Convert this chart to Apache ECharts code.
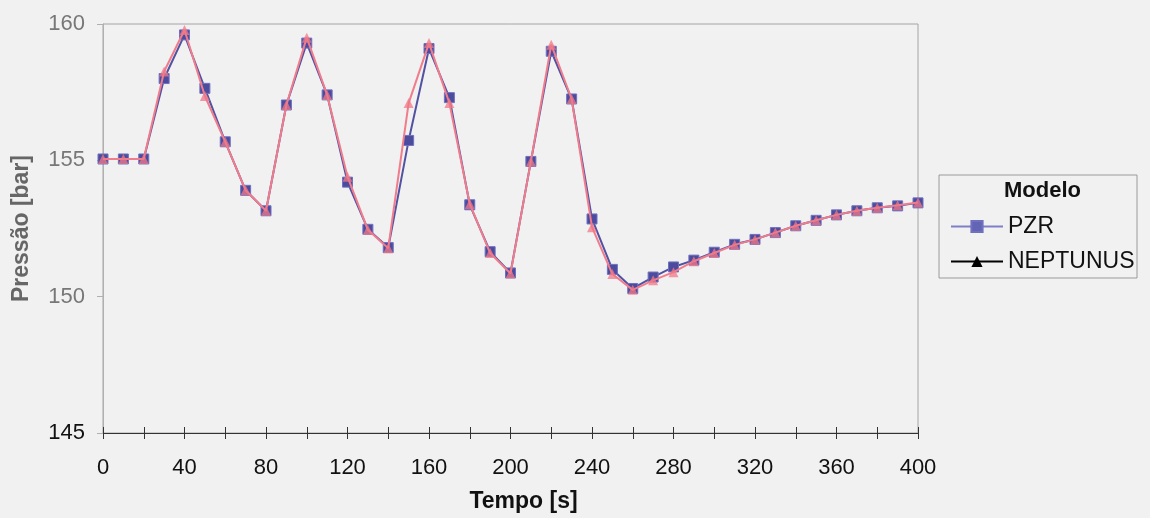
<!DOCTYPE html>
<html>
<head>
<meta charset="utf-8">
<script src="https://cdn.jsdelivr.net/npm/echarts@6/dist/echarts.min.js"></script>
<style>
html,body{margin:0;padding:0;background:#f1f1f1;}
#c{width:1150px;height:518px;}
</style>
</head>
<body>
<div id="c"></div>
<script>
var tempo = [0,10,20,30,40,50,60,70,80,90,100,110,120,130,140,150,160,170,180,190,200,210,220,230,240,250,260,270,280,290,300,310,320,330,340,350,360,370,380,390,400];
var pzr = [155.05,155.05,155.05,158.0,159.6,157.64,155.68,153.9,153.15,157.03,159.3,157.4,154.2,152.47,151.8,155.73,159.1,157.3,153.37,151.65,150.87,154.96,159.0,157.25,152.85,151.0,150.3,150.72,151.09,151.34,151.63,151.92,152.1,152.35,152.6,152.8,153.0,153.15,153.26,153.33,153.44];
var neptunus = [155.05,155.05,155.05,158.26,159.78,157.36,155.68,153.9,153.15,157.03,159.5,157.4,154.4,152.45,151.78,157.1,159.3,157.1,153.4,151.6,150.85,154.96,159.24,157.25,152.55,150.83,150.25,150.6,150.9,151.3,151.6,151.9,152.1,152.35,152.6,152.8,153.0,153.15,153.26,153.35,153.45];
var xTicks = [0,40,80,120,160,200,240,280,320,360,400];
var yTicks = [145,150,155,160];

function pairs(xs, ys){ return xs.map(function(x,i){ return [x, ys[i]]; }); }

var chart = echarts.init(document.getElementById('c'), null, {renderer:'canvas'});
var font = '"Liberation Sans", Arial, sans-serif';
chart.setOption({
  backgroundColor:'#f1f1f1',
  animation:false,
  grid:{left:103, right:232, top:24, bottom:80, show:true, borderColor:'#a4a4a4', borderWidth:1, backgroundColor:'transparent'},
  xAxis:[{
    type:'value', min:0, max:400, interval:20, position:'bottom',
    name:'Tempo [s]', nameLocation:'middle', nameGap:57,
    nameTextStyle:{fontFamily:font, fontSize:23, fontWeight:'bold', color:'#111', padding:[0,0,0,26]},
    axisLine:{show:true, onZero:false, lineStyle:{color:'#333', width:1}},
    axisTick:{show:true, length:6, lineStyle:{color:'#333'}},
    axisLabel:{fontFamily:font, fontSize:22, color:'#111', margin:24,
      formatter:function(v){ return xTicks.indexOf(v) >= 0 ? String(v) : ''; }},
    splitLine:{show:false}
  },{
    type:'value', min:0, max:400, interval:20, position:'bottom', offset:0,
    axisLine:{show:true, onZero:false, lineStyle:{color:'rgba(0,0,0,0)'}},
    axisTick:{show:true, inside:true, length:6, lineStyle:{color:'#333'}},
    axisLabel:{show:false},
    splitLine:{show:false}
  }],
  yAxis:{
    type:'value', min:145, max:160, interval:5,
    name:'Pressão [bar]', nameLocation:'middle', nameGap:70,
    nameTextStyle:{fontFamily:font, fontSize:23, fontWeight:'bold', color:'#666'},
    axisLine:{show:true, lineStyle:{color:'#b0b0b0'}},
    axisTick:{show:true, length:6, lineStyle:{color:'#b0b0b0'}},
    axisLabel:{fontFamily:font, fontSize:22, margin:18,
      formatter:function(v){ return yTicks.indexOf(v) >= 0 ? String(v) : ''; },
      color:function(v){ return Number(v) === 145 ? '#111' : '#777'; }},
    splitLine:{show:false}
  },
  legend:{
    orient:'vertical', left:945, top:210, itemWidth:52, itemHeight:14, itemGap:12,
    textStyle:{fontFamily:font, fontSize:23, color:'#111'},
    data:[
      {name:'PZR', itemStyle:{color:'#6464b4'}, lineStyle:{color:'#8080c8', width:2}},
      {name:'NEPTUNUS', itemStyle:{color:'#000'}, lineStyle:{color:'#000', width:2}}
    ]
  },
  graphic:[
    {type:'rect', shape:{x:939, y:175, width:198, height:103}, style:{fill:'transparent', stroke:'#9a9a9a', lineWidth:1}, z:-1},
    {type:'text', left:1004, top:180, style:{text:'Modelo', fontFamily:font, fontSize:22, fontWeight:'bold', fill:'#111'}}
  ],
  series:[
    {name:'PZR', type:'line', data:pairs(tempo, pzr), symbol:'rect', symbolSize:10,
     lineStyle:{color:'#5252a2', width:2}, itemStyle:{color:'#4c4c9e', borderColor:'#7070c0', borderWidth:1}, z:2},
    {name:'NEPTUNUS', type:'line', data:pairs(tempo, neptunus), symbol:'triangle', symbolSize:10,
     lineStyle:{color:'#f07c8c', width:2}, itemStyle:{color:'rgba(240,120,135,0.75)'}, z:3}
  ]
});
</script>
</body>
</html>
